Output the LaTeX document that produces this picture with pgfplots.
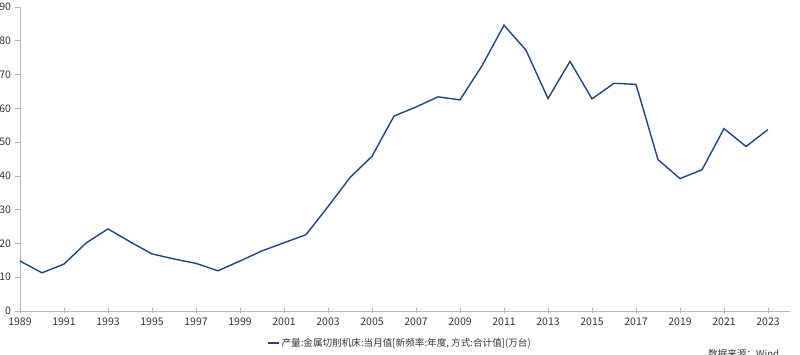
\documentclass[border=0pt]{standalone}
\usepackage{fontspec}
\setmainfont{Noto Sans CJK SC}
\usepackage{pgfplots}
\pgfplotsset{compat=1.18}
\definecolor{lineblue}{RGB}{31,70,122}
\definecolor{axgray}{RGB}{180,180,180}
\definecolor{txt}{RGB}{51,51,51}
\begin{document}
\begin{tikzpicture}
\begin{axis}[
  scale only axis,
  width=770bp, height=304bp,
  xmin=1989, xmax=2024,
  ymin=0, ymax=90,
  xtick={1989,1991,...,2023},
  ytick={0,10,...,90},
  /pgf/number format/assume math mode=true,
  xticklabel={\pgfmathprintnumber[precision=0,1000 sep={}]{\tick}},
  yticklabel={\pgfmathprintnumber{\tick}},
  axis x line=bottom, axis y line=left,
  axis line style={axgray, line width=0.8bp, -},
  major tick length=5bp,
  x tick style={axgray, line width=0.6bp},
  y tick style={axgray, line width=0.6bp},
  xtick align=center, ytick align=outside,
  tick label style={font=\fontsize{10.5bp}{12bp}\selectfont, text=txt},
  xticklabel style={yshift=-1bp},
  yticklabel style={xshift=-0.5bp},
  legend style={at={(axis description cs:0.4935,-0.105)}, anchor=center, draw=none,
    font=\fontsize{9.6bp}{11bp}\selectfont, text=txt, legend columns=1,
    /tikz/every even column/.style={column sep=2bp}},
  legend image code/.code={\draw[#1, line width=1.4bp] (0bp,0bp) -- (11bp,0bp);},
  clip=false,
]
\addplot[lineblue, line width=1.4bp] coordinates {
(1989,14.8) (1990,11.3) (1991,13.9) (1992,20.1) (1993,24.3) (1994,20.5)
(1995,16.9) (1996,15.4) (1997,14.1) (1998,11.9) (1999,14.8) (2000,17.8)
(2001,20.2) (2002,22.6) (2003,30.9) (2004,39.5) (2005,45.8) (2006,57.7)
(2007,60.4) (2008,63.4) (2009,62.5) (2010,72.6) (2011,84.6) (2012,77.2)
(2013,62.9) (2014,73.9) (2015,62.8) (2016,67.4) (2017,67.1) (2018,44.8)
(2019,39.2) (2020,41.8) (2021,54.0) (2022,48.7) (2023,53.7)
};
\addlegendentry{产量:金属切削机床:当月值[新频率:年度, 方式:合计值](万台)}
\node[anchor=north west, font=\fontsize{9.6bp}{11bp}\selectfont, text=txt, inner sep=0pt]
  at (axis description cs:0.8935,-0.125) {数据来源：Wind};
\end{axis}
\pgfresetboundingbox
\path[use as bounding box] ([xshift=-20bp,yshift=-44bp]current axis.south west) rectangle ([xshift=10bp,yshift=7bp]current axis.north east);
\end{tikzpicture}
\end{document}
